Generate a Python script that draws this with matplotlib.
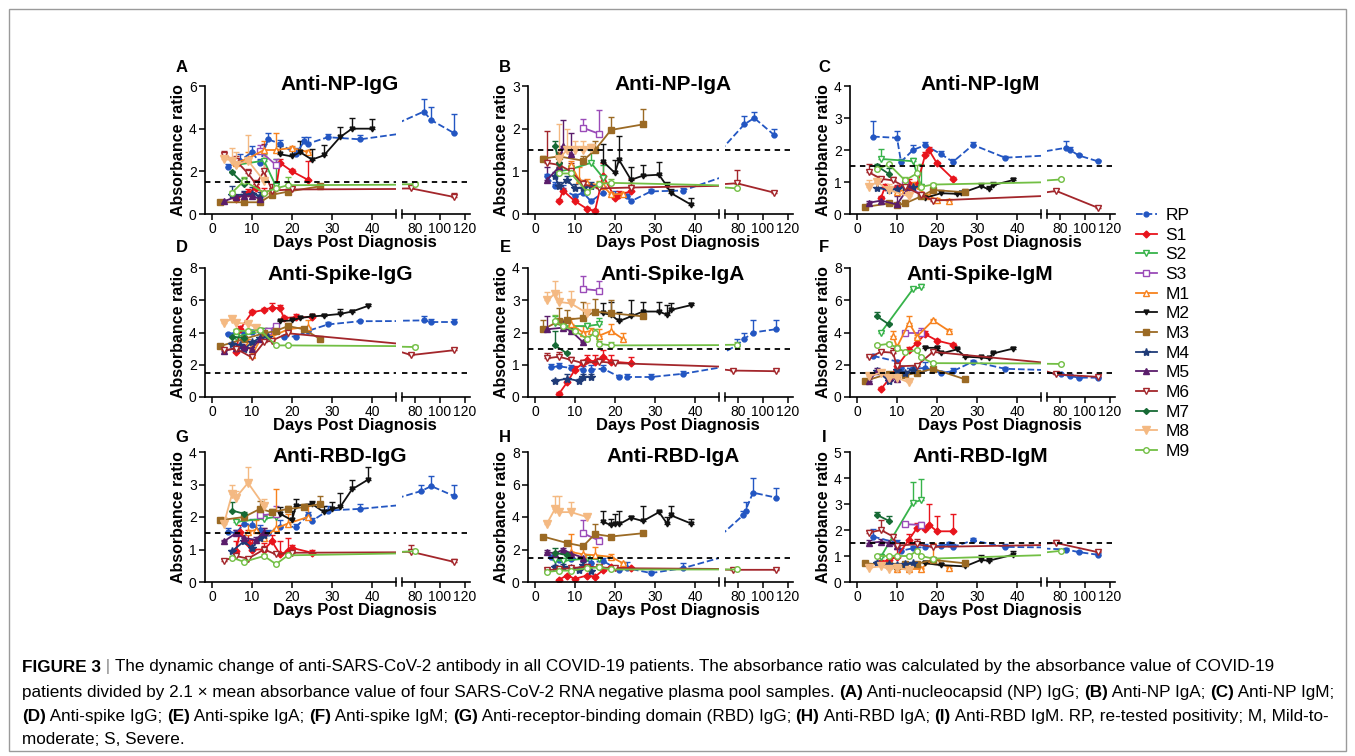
import matplotlib
matplotlib.use("Agg")
import numpy as np
import matplotlib.pyplot as plt
from matplotlib.lines import Line2D
from matplotlib.patches import Rectangle

plt.rcParams['font.family'] = ['Liberation Sans', 'DejaVu Sans']

W, H = 1355, 756

#%% Series styles
SERIES = ['RP', 'S1', 'S2', 'S3', 'M1', 'M2', 'M3', 'M4', 'M5', 'M6', 'M7', 'M8', 'M9']
COLORS = {'RP': '#2356c2', 'S1': '#e8141c', 'S2': '#37b34a', 'S3': '#9a4bb8',
          'M1': '#f7821e', 'M2': '#111111', 'M3': '#9b6a24', 'M4': '#1f3b78',
          'M5': '#5a1d6b', 'M6': '#a3262b', 'M7': '#176a35', 'M8': '#f4b982',
          'M9': '#72bf44'}
MARKERS = {'RP': ('o', 3.5, True), 'S1': ('D', 3.5, True), 'S2': ('v', 4.5, False),
           'S3': ('s', 4.3, False), 'M1': ('^', 4.5, False), 'M2': ('v', 3.5, True),
           'M3': ('s', 4.3, True), 'M4': ('*', 6, True), 'M5': ('^', 4.5, True),
           'M6': ('v', 4.5, False), 'M7': ('D', 3, True), 'M8': ('v', 5.5, True),
           'M9': ('o', 4, False)}

#%% Data: patient -> (days, absorbance ratio, upper error)
np_igg = {
    'RP': ([4, 7, 10, 12, 14, 17, 21, 23, 24, 29, 37, 87, 93, 111], [2.2, 2.5, 2.9, 2.4, 3.5, 3.3, 2.8, 3.4, 3.3, 3.6, 3.5, 4.8, 4.4, 3.8], [0.15, 0.3, 0.3, 0.2, 0.3, 0.15, 0.3, 0.2, 0.3, 0.15, 0.2, 0.6, 0.6, 0.9]),
    'S1': ([6, 9, 11, 13, 16, 17, 20, 24], [0.7, 1.0, 1.2, 1.0, 1.2, 2.4, 2.0, 1.6], [0.1, 0.15, 0.2, 0.2, 0.2, 0.2, 0.1, 0.9]),
    'S2': ([6, 13, 16], [2.3, 2.5, 1.3], [0.2, 0.3, 1.3]),
    'S3': ([12, 16], [2.95, 2.3], [0.3, 0.3]),
    'M1': ([6, 9, 13, 16, 20, 24], [2.4, 2.6, 3.0, 3.0, 3.1, 2.9], [0.2, 0.3, 0.4, 0.8, 0.1, 0.1]),
    'M2': ([17, 20, 22, 25, 28, 32, 35, 40], [2.8, 2.7, 2.9, 2.55, 2.75, 3.6, 4.0, 4.0], [0.4, 0.4, 0.5, 0.5, 0.5, 0.5, 0.5, 0.45]),
    'M3': ([2, 8, 12, 15, 19, 27], [0.55, 0.55, 0.55, 0.9, 1.05, 1.3], [0.05, 0.05, 0.05, 0.05, 0.1, 0.1]),
    'M4': ([5, 8, 10, 12], [0.9, 0.9, 0.95, 0.85], [0.4, 0.2, 0.3, 0.2]),
    'M5': ([3, 6, 8, 10, 12], [0.6, 0.8, 0.85, 0.85, 0.7], [0.05, 0.1, 0.2, 0.2, 0.1]),
    'M6': ([3, 6, 9, 11, 13, 15, 20, 77, 111], [2.75, 2.5, 1.9, 1.4, 2.0, 1.1, 1.15, 1.2, 0.8], [0.2, 0.2, 0.2, 0.2, 1.3, 0.3, 0.1, 0.1, 0.2]),
    'M7': ([5, 8], [1.95, 1.4], [0.05, 0.3]),
    'M8': ([3, 5, 6, 9, 13], [2.6, 2.5, 2.3, 2.5, 1.55], [0.2, 0.6, 0.6, 1.2, 1.2]),
    'M9': ([5, 8, 13, 16, 19, 80], [1.0, 1.55, 1.0, 1.2, 1.35, 1.4], [0.1, 0.2, 0.1, 0.3, 0.4, 0.1]),
}
np_iga = {
    'RP': ([3, 5, 7, 10, 12, 14, 17, 20, 23, 24, 29, 37, 85, 93, 109], [0.88, 0.65, 0.57, 0.42, 0.5, 0.3, 0.5, 0.43, 0.42, 0.3, 0.53, 0.55, 2.1, 2.25, 1.85], [0.05, 0.1, 0.1, 0.05, 0.1, 0.05, 0.15, 0.1, 0.05, 0.05, 0.05, 0.05, 0.2, 0.15, 0.15]),
    'S1': ([6, 7, 10, 13, 15, 17, 20, 21, 24], [0.3, 0.55, 0.3, 0.12, 0.07, 0.9, 0.38, 0.45, 0.53], [0.05, 0.05, 0.05, 0.05, 0.05, 0.3, 0.05, 0.1, 0.3]),
    'S2': ([6, 9, 14, 17], [1.0, 1.05, 1.2, 0.85], [0.1, 0.1, 0.3, 0.3]),
    'S3': ([12, 16], [2.02, 1.88], [0.2, 0.55]),
    'M1': ([9, 11, 13, 16, 17, 19, 22], [1.15, 0.8, 0.72, 0.68, 0.66, 0.46, 0.47], [0.1, 0.3, 0.1, 0.1, 0.1, 0.05, 0.05]),
    'M2': ([17, 20, 21, 24, 27, 31, 33, 34, 39], [1.23, 0.96, 1.27, 0.8, 0.9, 0.92, 0.65, 0.49, 0.22], [0.4, 0.3, 0.55, 0.3, 0.25, 0.3, 0.1, 0.1, 0.15]),
    'M3': ([2, 6, 12, 15, 19, 27], [1.3, 1.35, 1.25, 1.5, 1.97, 2.1], [0.05, 0.1, 0.1, 0.2, 0.3, 0.35]),
    'M4': ([5, 6, 8, 10, 12, 14], [0.88, 0.65, 0.8, 0.6, 0.62, 0.65], [0.1, 0.1, 0.1, 0.1, 0.1, 0.1]),
    'M5': ([3, 6, 7, 9], [0.8, 1.1, 1.6, 1.4], [0.3, 0.3, 0.6, 0.5]),
    'M6': ([3, 6, 9, 12, 16, 24, 79, 109], [1.2, 1.15, 1.0, 0.7, 0.6, 0.62, 0.72, 0.5], [0.75, 0.3, 0.2, 0.1, 0.1, 0.1, 0.3, 0.05]),
    'M7': ([5, 6], [1.6, 1.2], [0.12, 0.2]),
    'M8': ([6, 8, 10, 12, 14], [1.3, 1.5, 1.5, 1.5, 1.55], [0.8, 0.5, 0.2, 0.2, 0.1]),
    'M9': ([6, 9, 13, 16, 19, 79], [0.95, 0.95, 0.52, 0.7, 0.73, 0.6], [0.05, 0.1, 0.05, 0.05, 0.1, 0.1]),
}
np_igm = {
    'RP': ([4, 10, 11, 14, 17, 21, 24, 29, 37, 85, 88, 95, 110], [2.42, 2.38, 1.63, 2.0, 2.15, 1.87, 1.63, 2.16, 1.76, 2.07, 2.0, 1.83, 1.65], [0.5, 0.2, 0.1, 0.15, 0.1, 0.1, 0.1, 0.1, 0.05, 0.2, 0.1, 0.05, 0.05]),
    'S1': ([6, 7, 10, 13, 15, 17, 18, 20, 24], [0.5, 0.85, 0.82, 0.95, 0.9, 1.83, 2.0, 1.58, 1.1], [0.05, 0.1, 0.1, 0.15, 0.1, 0.1, 0.1, 0.05, 0.05]),
    'S2': ([6, 14, 16], [1.72, 1.65, 0.85], [0.3, 0.1, 0.7]),
    'S3': ([12, 16], [0.95, 0.6], [0.1, 0.1]),
    'M1': ([10, 12, 14, 18, 20, 23], [0.7, 0.75, 0.9, 0.55, 0.45, 0.42], [0.1, 0.1, 0.1, 0.05, 0.05, 0.05]),
    'M2': ([17, 21, 25, 26, 31, 33, 34, 39], [0.5, 0.65, 0.63, 0.65, 0.87, 0.77, 0.9, 1.06], [0.1, 0.1, 0.05, 0.05, 0.1, 0.1, 0.1, 0.05]),
    'M3': ([2, 8, 10, 12, 16, 19, 27], [0.22, 0.33, 0.28, 0.33, 0.55, 0.75, 0.68], [0.05, 0.05, 0.05, 0.1, 0.1, 0.05, 0.1]),
    'M4': ([5, 8, 10, 12, 14], [0.82, 0.75, 0.78, 0.85, 0.85], [0.15, 0.1, 0.1, 0.1, 0.1]),
    'M5': ([3, 6, 10, 13], [0.35, 0.42, 0.3, 0.85], [0.05, 0.1, 0.25, 0.1]),
    'M6': ([3, 6, 9, 12, 16, 19, 77, 110], [1.3, 1.1, 1.05, 0.85, 0.6, 0.42, 0.72, 0.2], [0.25, 0.05, 0.1, 0.1, 0.05, 0.05, 0.05, 0.05]),
    'M7': ([5, 8], [1.5, 1.25], [0.05, 0.2]),
    'M8': ([3, 5, 8, 13], [0.85, 1.0, 0.75, 0.55], [0.2, 0.2, 0.2, 0.3]),
    'M9': ([5, 8, 12, 15, 16, 19, 81], [1.4, 1.55, 1.05, 1.27, 0.85, 0.92, 1.08], [0.1, 0.05, 0.1, 0.25, 0.1, 0.05, 0.05]),
}
spike_igg = {
    'RP': ([4, 6, 8, 10, 12, 14, 16, 18, 21, 24, 29, 37, 87, 93, 111], [3.9, 4.0, 4.0, 4.05, 4.1, 4.1, 4.2, 3.75, 3.75, 4.1, 4.5, 4.7, 4.75, 4.65, 4.65], [0.1, 0.1, 0.1, 0.1, 0.15, 0.15, 0.1, 0.1, 0.1, 0.2, 0.15, 0.1, 0.3, 0.2, 0.2]),
    'S1': ([6, 7, 10, 13, 15, 17, 18, 21, 25], [2.8, 4.2, 5.25, 5.4, 5.55, 5.5, 4.9, 4.95, 4.95], [0.2, 0.2, 0.15, 0.1, 0.25, 0.2, 0.1, 0.2, 0.2]),
    'S2': ([6, 13, 16], [3.75, 4.1, 4.25], [0.1, 0.1, 0.1]),
    'S3': ([14, 16], [4.1, 4.4], [0.1, 0.1]),
    'M1': ([9, 10, 13, 15, 19, 24], [3.3, 2.6, 4.0, 3.75, 4.2, 4.35], [0.3, 0.7, 0.3, 0.3, 0.4, 0.4]),
    'M2': ([17, 20, 22, 25, 28, 32, 35, 39], [4.7, 4.75, 4.9, 5.0, 5.05, 5.15, 5.3, 5.65], [0.1, 0.1, 0.1, 0.1, 0.1, 0.3, 0.1, 0.1]),
    'M3': ([2, 8, 13, 16, 19, 23, 27], [3.15, 3.6, 3.95, 4.1, 4.4, 4.2, 3.6], [0.1, 0.1, 0.1, 0.1, 0.1, 0.1, 0.1]),
    'M4': ([5, 7, 8, 10, 12, 14], [3.3, 3.2, 2.95, 3.4, 3.65, 3.7], [0.1, 0.1, 0.1, 0.1, 0.1, 0.1]),
    'M5': ([3, 6, 8, 10, 12], [2.85, 3.05, 3.1, 3.0, 3.6], [0.1, 0.1, 0.1, 0.1, 0.1]),
    'M6': ([3, 6, 10, 13, 15, 19, 77, 111], [2.9, 3.0, 2.45, 3.4, 3.5, 3.95, 2.6, 2.9], [0.1, 0.1, 0.2, 0.1, 0.1, 0.15, 0.1, 0.15]),
    'M7': ([5, 8], [3.75, 3.65], [0.1, 0.1]),
    'M8': ([3, 5, 6, 9, 11], [4.6, 4.85, 4.6, 4.55, 4.3], [0.1, 0.1, 0.1, 0.1, 0.1]),
    'M9': ([6, 9, 12, 16, 19, 80], [4.1, 4.1, 4.15, 3.2, 3.2, 3.1], [0.1, 0.1, 0.1, 0.1, 0.1, 0.1]),
}
spike_iga = {
    'RP': ([4, 6, 9, 12, 14, 17, 21, 23, 29, 37, 79, 85, 92, 110], [0.93, 0.95, 0.9, 0.85, 0.85, 0.88, 0.63, 0.62, 0.62, 0.72, 1.6, 1.8, 2.0, 2.1], [0.1, 0.1, 0.1, 0.1, 0.15, 0.1, 0.05, 0.1, 0.1, 0.1, 0.2, 0.2, 0.4, 0.3]),
    'S1': ([6, 8, 10, 12, 13, 15, 17, 19, 24], [0.1, 0.45, 0.85, 1.05, 1.15, 1.1, 1.25, 1.1, 1.05], [0.05, 0.05, 0.1, 0.1, 0.15, 0.2, 0.2, 0.2, 0.2]),
    'S2': ([5, 7, 13, 16], [2.3, 2.2, 2.2, 2.25], [0.2, 0.1, 0.1, 0.2]),
    'S3': ([12, 16], [3.35, 3.3], [0.4, 0.3]),
    'M1': ([9, 12, 14, 16, 19, 22], [2.25, 2.0, 2.05, 1.9, 2.05, 1.8], [0.2, 0.2, 0.1, 0.2, 0.2, 0.2]),
    'M2': ([17, 19, 21, 24, 27, 31, 33, 34, 39], [2.6, 2.55, 2.35, 2.5, 2.65, 2.65, 2.55, 2.7, 2.85], [0.3, 0.4, 0.3, 0.5, 0.3, 0.3, 0.3, 0.2, 0.05]),
    'M3': ([2, 6, 8, 12, 15, 19, 27], [2.1, 2.35, 2.4, 2.45, 2.65, 2.6, 2.5], [0.3, 0.4, 0.3, 0.5, 0.4, 0.4, 0.05]),
    'M4': ([5, 8, 11, 12, 14], [0.5, 0.57, 0.5, 0.62, 0.62], [0.05, 0.15, 0.05, 0.1, 0.1]),
    'M5': ([3, 7, 9, 12], [2.1, 2.15, 2.05, 1.7], [0.4, 0.2, 0.1, 0.05]),
    'M6': ([3, 6, 9, 12, 16, 20, 76, 110], [1.2, 1.25, 1.15, 1.05, 1.1, 1.05, 0.82, 0.8], [0.15, 0.15, 0.1, 0.1, 0.1, 0.1, 0.05, 0.05]),
    'M7': ([5, 8], [1.6, 1.35], [0.45, 0.05]),
    'M8': ([3, 5, 6, 9, 13], [3.0, 3.2, 2.95, 2.9, 2.6], [0.25, 0.4, 0.3, 0.4, 0.3]),
    'M9': ([5, 7, 10, 13, 15, 16, 19, 79], [2.35, 2.2, 2.05, 1.8, 2.0, 1.65, 1.6, 1.62], [0.2, 0.1, 0.1, 0.1, 0.1, 0.1, 0.1, 0.1]),
}
spike_igm = {
    'RP': ([4, 10, 11, 14, 17, 21, 24, 29, 37, 81, 88, 95, 110], [2.55, 2.2, 1.8, 1.75, 1.8, 1.5, 1.6, 2.2, 1.75, 1.4, 1.3, 1.2, 1.2], [0.05, 0.1, 0.1, 0.1, 0.4, 0.1, 0.2, 0.1, 0.1, 0.05, 0.1, 0.05, 0.05]),
    'S1': ([6, 8, 10, 13, 15, 17, 20, 24], [0.5, 1.1, 1.9, 2.9, 3.35, 3.9, 3.5, 3.25], [0.1, 0.2, 0.2, 0.2, 0.3, 0.2, 0.1, 0.1]),
    'S2': ([6, 14, 16], [4.0, 6.7, 6.8], [0.1, 0.1, 0.2]),
    'S3': ([12, 16], [3.95, 3.95], [0.1, 0.3]),
    'M1': ([9, 10, 13, 15, 19, 23], [3.8, 3.1, 4.6, 3.75, 4.75, 4.1], [0.3, 0.1, 0.4, 0.1, 0.1, 0.1]),
    'M2': ([17, 20, 21, 25, 27, 31, 33, 34, 39], [3.05, 3.05, 2.7, 2.95, 2.5, 2.45, 2.4, 2.7, 3.0], [0.1, 0.1, 0.1, 0.1, 0.1, 0.1, 0.1, 0.1, 0.1]),
    'M3': ([2, 8, 10, 12, 15, 19, 27], [1.0, 1.45, 1.4, 1.35, 1.5, 1.75, 1.1], [0.1, 0.1, 0.1, 0.1, 0.1, 0.1, 0.1]),
    'M4': ([5, 8, 10, 12, 14], [1.6, 1.0, 1.7, 1.5, 1.7], [0.1, 0.1, 0.1, 0.1, 0.1]),
    'M5': ([3, 5, 8, 10], [1.0, 1.6, 1.2, 1.1], [0.1, 0.2, 0.1, 0.1]),
    'M6': ([3, 6, 9, 10, 15, 19, 77, 110], [2.45, 2.8, 2.75, 1.9, 1.95, 2.8, 1.4, 1.25], [0.1, 0.1, 0.3, 0.2, 0.1, 0.1, 0.05, 0.05]),
    'M7': ([5, 8], [5.0, 4.5], [0.3, 0.1]),
    'M8': ([3, 6, 8, 10, 13], [1.3, 1.5, 1.2, 1.2, 0.9], [0.1, 0.1, 0.1, 0.1, 0.1]),
    'M9': ([5, 8, 10, 12, 15, 16, 19, 81], [3.2, 3.3, 3.05, 2.8, 2.9, 2.45, 2.1, 2.05], [0.1, 0.1, 0.1, 0.1, 0.1, 0.1, 0.1, 0.05]),
}
rbd_igg = {
    'RP': ([4, 6, 8, 10, 12, 14, 17, 21, 24, 25, 29, 37, 85, 93, 111], [1.55, 1.5, 1.8, 1.75, 1.6, 1.5, 1.7, 1.7, 2.05, 1.88, 2.2, 2.25, 2.8, 2.95, 2.65], [0.1, 0.1, 0.1, 0.2, 0.15, 0.1, 0.2, 0.1, 0.1, 0.1, 0.15, 0.15, 0.2, 0.3, 0.35]),
    'S1': ([6, 7, 9, 10, 13, 15, 17, 19, 20, 25], [0.95, 1.55, 1.2, 1.0, 1.0, 1.25, 0.85, 0.95, 1.05, 0.9], [0.3, 0.2, 0.4, 0.3, 0.2, 0.2, 0.4, 0.4, 0.1, 0.1]),
    'S2': ([6, 13, 16], [1.85, 1.95, 2.0], [0.1, 0.1, 0.1]),
    'S3': ([12, 16], [2.05, 2.1], [0.25, 0.25]),
    'M1': ([9, 11, 13, 16, 19, 24], [1.55, 1.6, 1.35, 1.65, 1.8, 2.0], [0.2, 0.3, 0.3, 1.2, 0.3, 0.4]),
    'M2': ([17, 20, 21, 25, 28, 30, 32, 35, 39], [2.1, 1.9, 2.35, 2.4, 2.15, 2.25, 2.3, 2.85, 3.15], [0.2, 0.3, 0.2, 0.1, 0.2, 0.2, 0.45, 0.3, 0.4]),
    'M3': ([2, 8, 12, 15, 19, 23, 27], [1.9, 2.0, 2.25, 2.15, 2.25, 2.3, 2.4], [0.05, 0.1, 0.25, 0.1, 0.1, 0.1, 0.25]),
    'M4': ([5, 8, 10, 12, 13], [0.95, 1.25, 1.05, 1.35, 1.45], [0.05, 0.1, 0.1, 0.15, 0.1]),
    'M5': ([3, 6, 8, 11, 13], [1.25, 1.5, 1.35, 1.3, 1.55], [0.05, 0.1, 0.1, 0.1, 0.1]),
    'M6': ([3, 6, 9, 13, 16, 20, 77, 111], [0.65, 0.8, 0.72, 1.0, 0.85, 0.9, 0.93, 0.62], [0.05, 0.1, 0.05, 0.1, 0.05, 0.05, 0.2, 0.1]),
    'M7': ([5, 8], [2.2, 2.1], [0.25, 0.05]),
    'M8': ([3, 5, 6, 9, 13], [1.8, 2.7, 2.6, 3.05, 2.35], [0.2, 0.3, 0.2, 0.5, 0.2]),
    'M9': ([5, 8, 13, 16, 19, 80], [0.75, 0.62, 0.8, 0.55, 0.82, 0.95], [0.05, 0.05, 0.05, 0.05, 0.05, 0.05]),
}
rbd_iga = {
    'RP': ([4, 6, 9, 12, 14, 17, 21, 23, 29, 37, 84, 86, 92, 110], [1.55, 1.35, 1.4, 1.5, 1.2, 1.3, 0.72, 0.85, 0.55, 0.85, 4.1, 4.4, 5.5, 5.2], [0.1, 0.1, 0.3, 0.2, 0.3, 0.2, 0.1, 0.4, 0.1, 0.3, 0.3, 0.5, 0.9, 0.6]),
    'S1': ([6, 8, 10, 13, 15, 17, 19, 24], [0.15, 0.4, 0.2, 0.4, 0.33, 0.72, 0.9, 0.85], [0.05, 0.05, 0.05, 0.05, 0.05, 0.1, 0.1, 0.1]),
    'S2': ([5, 7, 13, 16], [1.35, 1.3, 1.45, 1.4], [0.5, 0.2, 0.2, 0.2]),
    'S3': ([12, 16], [3.0, 2.55], [0.8, 0.2]),
    'M1': ([9, 12, 15, 19, 22], [1.85, 1.7, 1.65, 1.55, 1.15], [1.1, 0.5, 0.5, 0.2, 0.1]),
    'M2': ([17, 19, 20, 21, 24, 27, 31, 33, 34, 39], [3.7, 3.5, 3.6, 3.55, 3.95, 3.75, 4.3, 3.6, 4.1, 3.6], [0.7, 0.4, 0.6, 0.8, 0.1, 0.9, 0.1, 0.4, 0.6, 0.3]),
    'M3': ([2, 8, 12, 15, 19, 27], [2.8, 2.4, 2.2, 2.95, 2.8, 3.0], [0.05, 0.1, 0.1, 0.6, 0.05, 0.05]),
    'M4': ([5, 7, 9, 11, 12, 14], [0.95, 0.9, 0.85, 0.75, 1.05, 0.65], [0.1, 0.2, 0.1, 0.1, 0.2, 0.1]),
    'M5': ([3, 5, 7, 9, 12], [1.85, 1.75, 2.0, 1.75, 1.5], [0.1, 0.1, 0.1, 0.1, 0.1]),
    'M6': ([3, 6, 9, 13, 16, 20, 76, 110], [0.72, 0.8, 0.85, 0.95, 0.9, 0.85, 0.75, 0.75], [0.1, 0.1, 0.1, 0.1, 0.1, 0.05, 0.1, 0.05]),
    'M7': ([5, 8], [1.8, 1.65], [0.3, 0.2]),
    'M8': ([3, 5, 6, 9, 13], [3.6, 4.5, 4.3, 4.3, 4.0], [0.1, 0.8, 1.0, 0.6, 0.1]),
    'M9': ([3, 6, 9, 13, 16, 19, 79], [0.62, 0.7, 0.7, 0.85, 0.9, 0.77, 0.77], [0.05, 0.05, 0.05, 0.05, 0.05, 0.05, 0.05]),
}
rbd_igm = {
    'RP': ([4, 10, 11, 14, 17, 21, 23, 24, 29, 37, 85, 95, 110], [1.75, 1.5, 1.2, 1.3, 1.35, 1.4, 1.45, 1.35, 1.6, 1.35, 1.25, 1.15, 1.05], [0.3, 0.1, 0.1, 0.1, 0.1, 0.1, 0.1, 0.1, 0.1, 0.1, 0.05, 0.05, 0.05]),
    'S1': ([6, 8, 10, 13, 15, 17, 18, 20, 24], [0.75, 0.85, 0.98, 1.63, 2.08, 2.05, 2.2, 1.95, 1.95], [0.1, 0.15, 0.3, 0.2, 0.2, 0.1, 0.8, 0.6, 0.65]),
    'S2': ([6, 14, 16], [0.98, 3.05, 3.15], [0.1, 0.8, 0.8]),
    'S3': ([12, 16], [2.22, 2.2], [0.05, 0.1]),
    'M1': ([10, 13, 16, 19, 20, 23], [0.5, 0.5, 0.5, 0.9, 0.8, 0.55], [0.05, 0.05, 0.05, 0.6, 0.1, 0.05]),
    'M2': ([17, 21, 27, 31, 33, 39], [0.72, 0.65, 0.6, 0.85, 0.82, 1.05], [0.1, 0.1, 0.05, 0.2, 0.1, 0.15]),
    'M3': ([2, 8, 10, 12, 15, 19, 27], [0.72, 0.65, 0.6, 0.68, 0.7, 0.85, 0.72], [0.05, 0.05, 0.05, 0.05, 0.05, 0.05, 0.05]),
    'M4': ([5, 8, 10, 12, 14], [0.75, 0.7, 0.65, 0.7, 0.72], [0.05, 0.05, 0.05, 0.05, 0.05]),
    'M5': ([3, 6, 8, 10], [1.5, 1.55, 1.5, 1.4], [0.1, 0.1, 0.1, 0.1]),
    'M6': ([3, 6, 9, 10, 15, 19, 77, 110], [1.9, 2.0, 1.75, 1.4, 1.45, 1.35, 1.5, 1.15], [0.1, 0.4, 0.1, 0.1, 0.2, 0.05, 0.1, 0.05]),
    'M7': ([5, 8], [2.58, 2.35], [0.1, 0.2]),
    'M8': ([3, 6, 8, 10, 13], [0.55, 0.6, 0.5, 0.55, 0.45], [0.05, 0.05, 0.05, 0.05, 0.05]),
    'M9': ([5, 8, 10, 13, 15, 16, 19, 81], [1.0, 1.0, 1.0, 1.0, 1.2, 1.0, 0.9, 1.2], [0.05, 0.05, 0.05, 0.05, 0.05, 0.05, 0.05, 0.05]),
}

# letter, title, data, y max, y tick step
PANELS = [('A', 'Anti-NP-IgG', np_igg, 6, 2), ('B', 'Anti-NP-IgA', np_iga, 3, 1),
          ('C', 'Anti-NP-IgM', np_igm, 4, 1), ('D', 'Anti-Spike-IgG', spike_igg, 8, 2),
          ('E', 'Anti-Spike-IgA', spike_iga, 4, 1), ('F', 'Anti-Spike-IgM', spike_igm, 8, 2),
          ('G', 'Anti-RBD-IgG', rbd_igg, 4, 1), ('H', 'Anti-RBD-IgA', rbd_iga, 8, 2),
          ('I', 'Anti-RBD-IgM', rbd_igm, 5, 1)]
THRESHOLD = 1.5
XTICKS_1 = [0, 10, 20, 30, 40]
XTICKS_2 = [80, 100, 120]

#%% Layout (pixels)
COL_LEFT = [205, 528, 850]
ROWS = [(86, 214), (268, 397), (452, 582)]
SEG1_W, GAP, SEG2_W = 191, 6, 68
TITLE_DX = [135, 145, 130]
TITLE_DY = [-2, 7, 5]

def fx(px):
    return px / W

def fy(py):
    return 1 - py / H

fig = plt.figure(figsize=(W / 100, H / 100), dpi=100)

for k, (letter, title, data, ymax, ystep) in enumerate(PANELS):
    r, c = divmod(k, 3)
    left = COL_LEFT[c]
    top, bot = ROWS[r]
    ax1 = fig.add_axes([fx(left), fy(bot), SEG1_W / W, (bot - top) / H])
    ax2 = fig.add_axes([fx(left + SEG1_W + GAP), fy(bot), SEG2_W / W, (bot - top) / H])
    for ax in (ax1, ax2):
        for name in SERIES:
            d, v, e = data[name]
            mk, ms, filled = MARKERS[name]
            col = COLORS[name]
            ax.errorbar(d, v, yerr=[np.zeros(len(e)), e], color=col, ecolor=col,
                        ls='--' if name == 'RP' else '-', lw=1.3, marker=mk, ms=ms,
                        mfc=col if filled else 'white', mec=col, mew=1.0,
                        elinewidth=1.0, capsize=2.2, capthick=1.0)
        ax.axhline(THRESHOLD, color='black', ls=(0, (3, 2.5)), lw=1.3, zorder=5)
        ax.set_ylim(0, ymax)
        ax.spines['top'].set_visible(False)
        ax.spines['right'].set_visible(False)
        ax.spines['bottom'].set_linewidth(1.2)
        ax.spines['left'].set_linewidth(1.2)
        ax.tick_params(direction='out', length=4, width=1.1, labelsize=10, pad=2)
        ax.patch.set_alpha(0)
    ax1.set_xlim(-1.75, 46)
    ax1.set_xticks(XTICKS_1)
    ax1.set_yticks(np.arange(0, ymax + 0.1, ystep))
    ax2.set_xlim(69.6, 124)
    ax2.set_xticks(XTICKS_2)
    ax2.spines['left'].set_visible(False)
    ax2.tick_params(axis='y', left=False, labelleft=False)
    # break marks
    ax1.plot([1, 1], [-0.03, 0.03], transform=ax1.transAxes, color='black', lw=1.1, clip_on=False)
    ax2.plot([0, 0], [-0.03, 0.03], transform=ax2.transAxes, color='black', lw=1.1, clip_on=False)
    ax1.set_ylabel('Absorbance ratio', fontsize=11.5, fontweight='bold', labelpad=2)

    fig.text(fx(left + 150), fy(bot + 28), 'Days Post Diagnosis', fontsize=12,
             fontweight='bold', ha='center', va='center')
    fig.text(fx(left + TITLE_DX[c]), fy(top + TITLE_DY[r]), title, fontsize=15,
             fontweight='bold', ha='center', va='center')
    fig.text(fx([182, 505, 824][c]), fy([67, 248, 437][r]), letter, fontsize=12,
             fontweight='bold', ha='center', va='center')

#%% Legend
handles = []
for name in SERIES:
    mk, ms, filled = MARKERS[name]
    col = COLORS[name]
    handles.append(Line2D([], [], color=col, ls='--' if name == 'RP' else '-', lw=1.3,
                          marker=mk, ms=ms, mfc=col if filled else 'white', mec=col, mew=1.0))
fig.legend(handles, SERIES, loc='upper left', bbox_to_anchor=(fx(1136), fy(208)),
           frameon=False, fontsize=12.5, handlelength=1.2, handletextpad=0.5,
           labelspacing=0.26, borderpad=0, borderaxespad=0)

#%% Frame
fig.add_artist(Rectangle((fx(9), fy(751)), (1346 - 9) / W, (751 - 9) / H,
                         transform=fig.transFigure, fill=False, ec='#9a9a9a', lw=1))

#%% Caption
CAP_FONT = ['Liberation Sans Narrow', 'Liberation Sans']
CAP_SIZE = 12.3
caption = [
    [('FIGURE 3', 'bold', 'black'), (' | ', 'normal', '#888888'),
     ('The dynamic change of anti-SARS-CoV-2 antibody in all COVID-19 patients. The absorbance ratio was calculated by the absorbance value of COVID-19', 'normal', 'black')],
    [('patients divided by 2.1 \u00d7 mean absorbance value of four SARS-CoV-2 RNA negative plasma pool samples. ', 'normal', 'black'),
     ('(A)', 'bold', 'black'), (' Anti-nucleocapsid (NP) IgG; ', 'normal', 'black'),
     ('(B)', 'bold', 'black'), (' Anti-NP IgA; ', 'normal', 'black'),
     ('(C)', 'bold', 'black'), (' Anti-NP IgM;', 'normal', 'black')],
    [('(D)', 'bold', 'black'), (' Anti-spike IgG; ', 'normal', 'black'),
     ('(E)', 'bold', 'black'), (' Anti-spike IgA; ', 'normal', 'black'),
     ('(F)', 'bold', 'black'), (' Anti-spike IgM; ', 'normal', 'black'),
     ('(G)', 'bold', 'black'), (' Anti-receptor-binding domain (RBD) IgG; ', 'normal', 'black'),
     ('(H)', 'bold', 'black'), (' Anti-RBD IgA; ', 'normal', 'black'),
     ('(I)', 'bold', 'black'), (' Anti-RBD IgM. RP, re-tested positivity; M, Mild-to-', 'normal', 'black')],
    [('moderate; S, Severe.', 'normal', 'black')],
]
CAP_Y = [667, 692, 716, 740]

renderer = fig.canvas.get_renderer()
for runs, y in zip(caption, CAP_Y):
    x = 22
    for txt, weight, color in runs:
        t = fig.text(fx(x), fy(y), txt, fontsize=CAP_SIZE, fontweight=weight, color=color,
                     family=CAP_FONT, ha='left', va='center')
        x += t.get_window_extent(renderer=renderer).width

fig.savefig('out.png', dpi=100)
